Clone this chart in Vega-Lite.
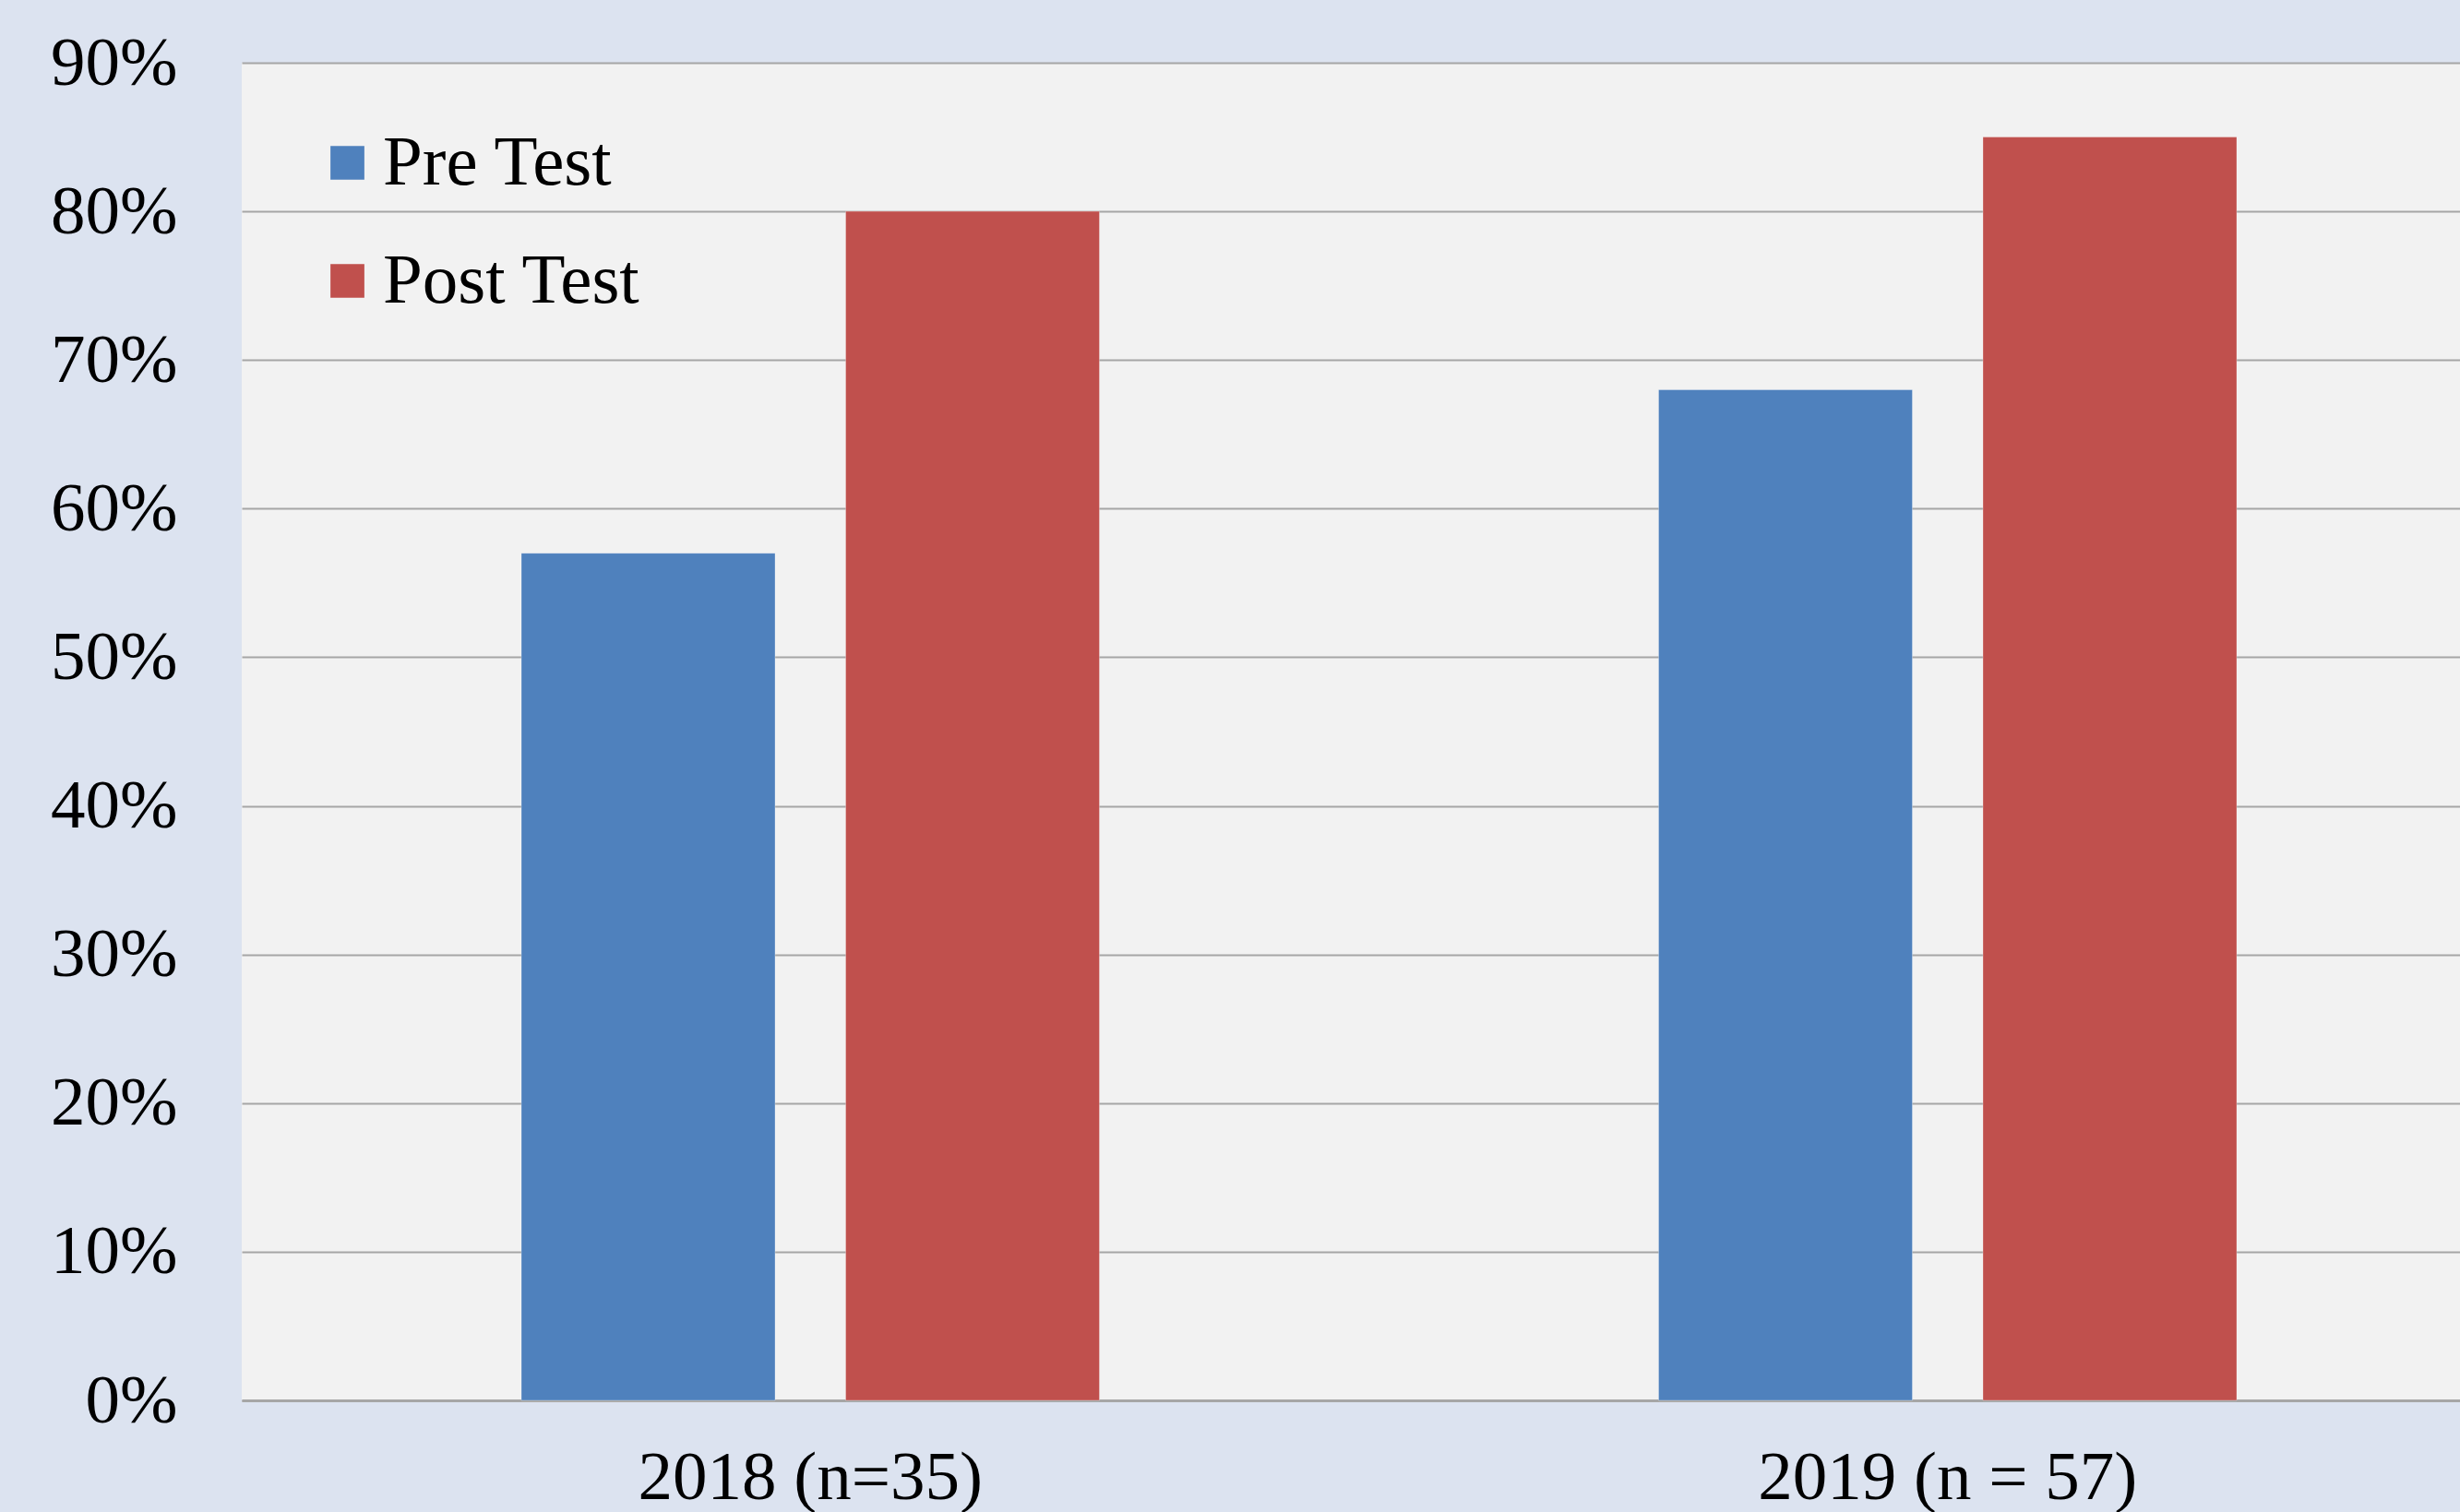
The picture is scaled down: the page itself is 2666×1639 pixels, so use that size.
{
  "$schema": "https://vega.github.io/schema/vega-lite/v6.json",
  "autosize": {"type": "none"},
  "padding": {"left": 262, "top": 68, "right": 0, "bottom": 121},
  "width": 2465,
  "height": 1450,
  "background": "#dce3f0",
  "config": {
    "view": {"fill": "#f2f2f2", "stroke": null},
    "font": "Liberation Serif"
  },
  "data": {
    "values": [
      {"year": "2018 (n=35)", "test": "Pre Test", "score": 0.57},
      {"year": "2018 (n=35)", "test": "Post Test", "score": 0.80},
      {"year": "2019 (n = 57)", "test": "Pre Test", "score": 0.68},
      {"year": "2019 (n = 57)", "test": "Post Test", "score": 0.85}
    ]
  },
  "mark": {"type": "bar", "stroke": "#ffffff", "strokeOpacity": 0.3, "strokeWidth": 1},
  "encoding": {
    "x": {
      "field": "year",
      "type": "nominal",
      "sort": ["2018 (n=35)", "2019 (n = 57)"],
      "scale": {"paddingInner": 0, "paddingOuter": 0},
      "axis": {
        "title": null,
        "labelAngle": 0,
        "labelFontSize": 75,
        "labelColor": "#000000",
        "labelPadding": 47,
        "labelLimit": 1000,
        "ticks": false,
        "domain": true,
        "domainColor": "#a6a6a6",
        "domainWidth": 3,
        "grid": false
      }
    },
    "xOffset": {
      "field": "test",
      "type": "nominal",
      "sort": ["Pre Test", "Post Test"],
      "scale": {"paddingInner": 0.2176, "paddingOuter": 0.862}
    },
    "y": {
      "field": "score",
      "type": "quantitative",
      "scale": {"domain": [0, 0.9], "nice": false},
      "axis": {
        "title": null,
        "format": ".0%",
        "values": [0, 0.1, 0.2, 0.3, 0.4, 0.5, 0.6, 0.7, 0.8, 0.9],
        "labelFontSize": 75,
        "labelColor": "#000000",
        "labelPadding": 70,
        "ticks": false,
        "domain": false,
        "grid": true,
        "gridColor": "#a6a6a6",
        "gridWidth": 2
      }
    },
    "color": {
      "field": "test",
      "type": "nominal",
      "sort": ["Pre Test", "Post Test"],
      "scale": {"domain": ["Pre Test", "Post Test"], "range": ["#4f81bd", "#c0504d"]},
      "legend": {
        "title": null,
        "orient": "none",
        "legendX": 76,
        "legendY": 70,
        "symbolType": "square",
        "symbolSize": 1350,
        "symbolStrokeWidth": 0,
        "labelFontSize": 77,
        "labelColor": "#000000",
        "labelOffset": 0,
        "rowPadding": 50,
        "labelLimit": 600
      }
    }
  }
}
